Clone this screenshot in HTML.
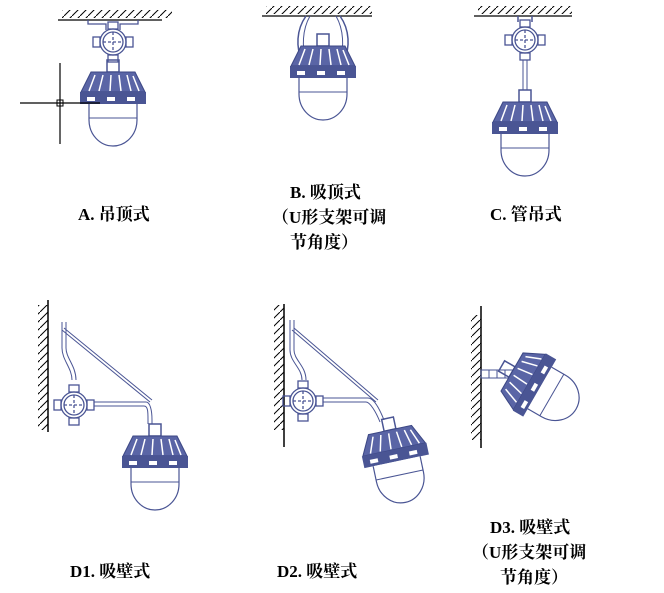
<!DOCTYPE html>
<html><head><meta charset="utf-8"><style>
html,body{margin:0;padding:0;background:#fff}
svg{display:block}
text{font-family:"Liberation Serif","Noto Serif CJK SC",serif;font-weight:bold;font-size:17px;fill:#000}
</style></head><body>
<svg width="664" height="593" viewBox="0 0 664 593" xmlns="http://www.w3.org/2000/svg">
<defs>
<pattern id="hat" width="8" height="8" patternUnits="userSpaceOnUse"><path d="M0,8 L8,0" stroke="#000" stroke-width="1"/></pattern>
<g id="lamp">
 <rect x="-6" y="-12" width="12" height="12" fill="none" stroke="#4a5594" stroke-width="1.5"/>
 <path d="M-22,0 L22,0 L32,20 L-32,20 Z" fill="#5a65a6" stroke="#3c4784"/>
 <path d="M-18,3 L-24,19 M-10,3 L-14,19 M-2,3 L-3,19 M6,3 L8,19 M14,3 L18,19 M20,4 L26,19" stroke="#fff" stroke-width="1.5"/>
 <rect x="-33" y="20" width="66" height="12" fill="#4a5594"/>
 <rect x="-26" y="25" width="8" height="4" fill="#fff"/><rect x="-6" y="25" width="8" height="4" fill="#fff"/><rect x="14" y="25" width="8" height="4" fill="#fff"/>
 <path d="M-24,32 L-24,48 A24,26 0 0 0 24,48 L24,32" fill="#fff" stroke="#4a5594" stroke-width="1.2"/>
 <line x1="-24" y1="46" x2="24" y2="46" stroke="#4a5594"/>
</g>
<g id="box" fill="none" stroke="#4a5594" stroke-width="1.3">
 <circle r="13"/><circle r="10"/>
 <rect x="-5" y="-20" width="10" height="7"/><rect x="-5" y="13" width="10" height="7"/>
 <rect x="-20" y="-5" width="7" height="10"/><rect x="13" y="-5" width="7" height="10"/>
 <path d="M-10,0 H10 M0,-10 V10" stroke-dasharray="3,2"/>
</g>
</defs>

<!-- A -->
<rect x="62" y="10" width="110" height="8" fill="url(#hat)"/>
<line x1="58" y1="20" x2="162" y2="20" stroke="#000" stroke-width="1.2"/>
<path d="M88,20 V24 H106 V30 M138,20 V24 H120 V30" fill="none" stroke="#4a5594" stroke-width="1.3"/>
<use href="#box" x="113" y="42"/>
<line x1="113" y1="62" x2="113" y2="62" stroke="#4a5594" stroke-width="3"/>
<use href="#lamp" x="113" y="72"/>
<line x1="60" y1="63" x2="60" y2="144" stroke="#000" stroke-width="1.2"/>
<line x1="20" y1="103" x2="100" y2="103" stroke="#000" stroke-width="1.2"/>
<rect x="57" y="100" width="6" height="6" fill="none" stroke="#000"/>
<text x="78" y="220">A. 吊顶式</text>

<!-- B -->
<rect x="266" y="6" width="106" height="8" fill="url(#hat)"/>
<line x1="262" y1="16" x2="372" y2="16" stroke="#000" stroke-width="1.2"/>
<path d="M306,16 C296,30 296,48 302,60 M340,16 C350,30 350,48 344,60" fill="none" stroke="#4a5594" stroke-width="1.5"/>
<path d="M310,16 C302,30 302,48 306,58 M336,16 C344,30 344,48 340,58" fill="none" stroke="#4a5594"/>
<use href="#lamp" x="323" y="46"/>
<text x="290" y="198">B. 吸顶式</text>
<text x="272" y="223">（U形支架可调</text>
<text x="290" y="248">节角度）</text>

<!-- C -->
<rect x="478" y="6" width="94" height="8" fill="url(#hat)"/>
<line x1="474" y1="16" x2="572" y2="16" stroke="#000" stroke-width="1.2"/>
<path d="M518,16 V22 M532,16 V22" stroke="#4a5594" stroke-width="1.5"/>
<use href="#box" x="525" y="40"/>
<path d="M523,60 V90 M527,60 V90" stroke="#4a5594"/>
<use href="#lamp" x="525" y="102"/>
<text x="490" y="220">C. 管吊式</text>

<!-- D1 -->
<rect x="38" y="305" width="10" height="125" fill="url(#hat)"/>
<line x1="48" y1="300" x2="48" y2="432" stroke="#000" stroke-width="1.5"/>
<path d="M62,322 V348 C62,360 72,368 72,380 M66,322 V348 C66,358 76,366 76,380" fill="none" stroke="#4a5594"/>
<path d="M62,330 L150,402 M64,328 L152,400" stroke="#4a5594"/>
<use href="#box" x="74" y="405"/>
<path d="M94,402 H146 C150,402 152,410 152,420 V424 M94,406 H144 C148,406 148,412 148,420 V424" fill="none" stroke="#4a5594"/>
<use href="#lamp" x="155" y="436"/>
<text x="70" y="577">D1. 吸壁式</text>

<!-- D2 -->
<rect x="274" y="305" width="10" height="125" fill="url(#hat)"/>
<line x1="284" y1="304" x2="284" y2="447" stroke="#000" stroke-width="1.5"/>
<path d="M290,320 V350 C290,362 302,368 302,380 M294,320 V350 C294,360 306,366 306,380" fill="none" stroke="#4a5594"/>
<path d="M292,330 L376,402 M294,328 L378,400" stroke="#4a5594"/>
<use href="#box" x="303" y="401"/>
<path d="M323,398 H368 C374,398 380,410 384,420 M323,402 H366 C370,402 376,412 380,422" fill="none" stroke="#4a5594"/>
<use href="#lamp" transform="translate(390,430) rotate(-12)"/>
<text x="277" y="577">D2. 吸壁式</text>

<!-- D3 -->
<rect x="471" y="315" width="10" height="125" fill="url(#hat)"/>
<line x1="481" y1="306" x2="481" y2="448" stroke="#000" stroke-width="1.5"/>
<rect x="481" y="370" width="32" height="8" fill="none" stroke="#4a5594"/>
<path d="M489,370 V378 M497,370 V378 M505,370 V378" stroke="#4a5594"/>
<use href="#lamp" transform="translate(512,372) rotate(-60)"/>
<text x="490" y="533">D3. 吸壁式</text>
<text x="472" y="558">（U形支架可调</text>
<text x="500" y="583">节角度）</text>
</svg>
</body></html>
